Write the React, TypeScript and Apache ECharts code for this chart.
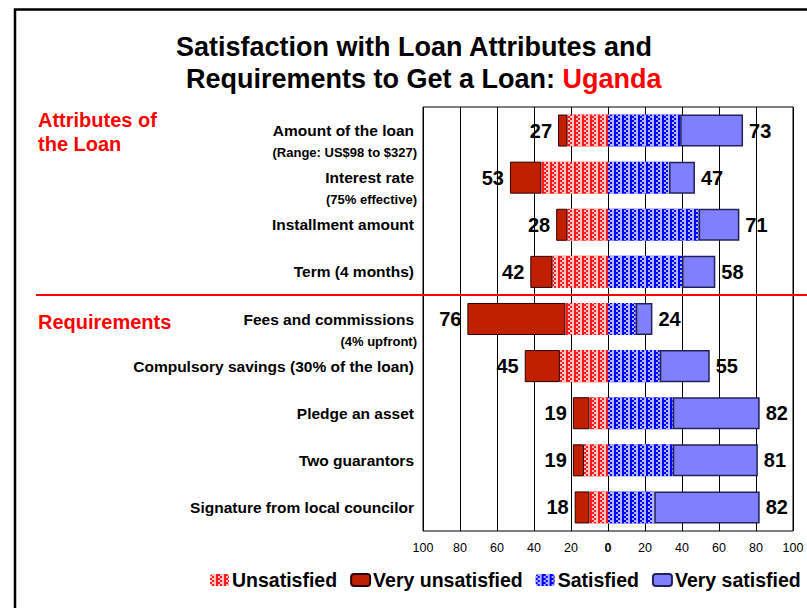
import React, { useEffect, useRef } from "react";
import * as echarts from "echarts";

const categories = [
  "Amount of the loan",
  "Interest rate",
  "Installment amount",
  "Term (4 months)",
  "Fees and commissions",
  "Compulsory savings (30% of the loan)",
  "Pledge an asset",
  "Two guarantors",
  "Signature from local councilor",
];
const subLabels = [
  "(Range: US$98 to $327)",
  "(75% effective)",
  "",
  "",
  "(4% upfront)",
  "",
  "",
  "",
  "",
];
const unsatisfied = [22, 36, 22, 30, 23, 26, 10, 13, 10];
const veryUnsatisfied = [5, 17, 6, 12, 53, 19, 9, 6, 8];
const satisfied = [39, 33, 49, 40, 15, 28, 35, 35, 25];
const verySatisfied = [34, 14, 22, 18, 9, 27, 47, 46, 57];
const xTicks = [-100, -80, -60, -40, -20, 0, 20, 40, 60, 80, 100];

const FONT = "'Liberation Sans', Arial, sans-serif";

export default function App() {
  const ref = useRef<HTMLDivElement>(null);
  useEffect(() => {
    document.body.style.margin = "0";
    if (!ref.current) return;
    const chart = echarts.init(ref.current, null, { renderer: "svg" });
    const leftTotals = unsatisfied.map((v, i) => v + veryUnsatisfied[i]);
    const rightTotals = satisfied.map((v, i) => v + verySatisfied[i]);
    const labelStyle = {
      show: true,
      fontFamily: FONT,
      fontWeight: "bold" as const,
      fontSize: 20,
      color: "#000",
      distance: 6,
    };
    const checker = (c: string) => ({
      symbol: "rect",
      symbolSize: 1,
      color: c,
      dashArrayX: [
        [1.5, 1.5],
        [0, 1.5, 1.5],
      ],
      dashArrayY: [1.5, 0],
    });
    const titleFont = "bold 27px 'Liberation Sans', Arial";
    chart.setOption({
      animation: false,
      backgroundColor: "#fff",
      textStyle: { fontFamily: FONT },
      graphic: [
        {
          type: "polyline",
          shape: { points: [[15, 620], [15, 9.5], [820, 9.5]] },
          style: { stroke: "#000", lineWidth: 2.5, fill: "none" },
          z: 100,
        },
        {
          type: "text",
          x: 176,
          y: 33,
          style: {
            text: "Satisfaction with Loan Attributes and",
            font: titleFont,
            fill: "#000",
          },
        },
        {
          type: "text",
          x: 186,
          y: 65,
          style: {
            text: "{a|Requirements to Get a Loan: }{b|Uganda}",
            rich: {
              a: { font: titleFont, fill: "#000" },
              b: { font: titleFont, fill: "#ff0000" },
            },
          },
        },
        {
          type: "text",
          x: 38,
          y: 108,
          style: {
            text: "Attributes of\nthe Loan",
            font: "bold 20px 'Liberation Sans', Arial",
            fill: "#ff0000",
            lineHeight: 24,
          },
        },
        {
          type: "text",
          x: 38,
          y: 312,
          style: {
            text: "Requirements",
            font: "bold 20px 'Liberation Sans', Arial",
            fill: "#ff0000",
          },
        },
        {
          type: "line",
          shape: { x1: 36, y1: 295, x2: 807, y2: 295 },
          style: { stroke: "#ff0000", lineWidth: 2 },
          z: 100,
        },
      ],
      legend: {
        left: 205,
        top: 565,
        width: 700,
        itemWidth: 19,
        itemHeight: 12,
        itemGap: 13,
        data: ["Unsatisfied", "Very unsatisfied", "Satisfied", "Very satisfied"],
        textStyle: {
          fontFamily: FONT,
          fontWeight: "bold",
          fontSize: 19.5,
          color: "#000",
          padding: [0, 0, 0, -2],
        },
      },
      grid: {
        left: 423,
        right: 14,
        top: 107,
        bottom: 77,
        show: true,
        borderColor: "#000",
        borderWidth: 1,
        containLabel: false,
      },
      xAxis: {
        type: "value",
        min: -100,
        max: 100,
        interval: 20,
        axisLine: { show: false },
        axisTick: { show: false },
        splitLine: { show: true, lineStyle: { color: "#000", width: 1 } },
        axisLabel: {
          fontFamily: FONT,
          fontSize: 12.5,
          color: "#000",
          margin: 10,
          formatter: (v: number) =>
            xTicks.indexOf(v) >= 0 ? (v === 0 ? "{z|0}" : String(Math.abs(v))) : "",
          rich: { z: { fontWeight: "bold", fontSize: 12.5, fontFamily: FONT } },
        },
      },
      yAxis: {
        type: "category",
        inverse: true,
        data: categories,
        axisLine: { show: false, onZero: false },
        axisTick: { show: false },
        splitLine: { show: false },
        axisLabel: {
          interval: 0,
          margin: 9,
          align: "right",
          formatter: (v: string, i: number) =>
            subLabels[i]
              ? `{e| }\n{a|${v}}\n{b|${subLabels[i]}}`
              : `{a|${v}}`,
          rich: {
            e: { fontSize: 10, lineHeight: 20 },
            a: {
              fontFamily: FONT,
              fontWeight: "bold",
              fontSize: 15.5,
              lineHeight: 24,
              color: "#000",
            },
            b: {
              fontFamily: FONT,
              fontWeight: "bold",
              fontSize: 13,
              lineHeight: 20,
              color: "#000",
              padding: [0, -3, 0, 0],
            },
          },
        },
      },
      series: [
        {
          name: "Unsatisfied",
          type: "bar",
          stack: "s",
          barCategoryGap: "32%",
          data: unsatisfied.map((v) => -v),
          itemStyle: {
            color: "#ff1a1a",
            decal: checker("rgba(255,255,255,0.75)"),
          },
        },
        {
          name: "Very unsatisfied",
          type: "bar",
          stack: "s",
          data: veryUnsatisfied.map((v) => -v),
          itemStyle: { color: "#c02000", borderColor: "#2a0000", borderWidth: 1 },
          label: {
            ...labelStyle,
            position: "left",
            formatter: (p: any) => String(leftTotals[p.dataIndex]),
          },
        },
        {
          name: "Satisfied",
          type: "bar",
          stack: "s",
          data: satisfied,
          itemStyle: {
            color: "#0000ff",
            decal: checker("rgba(255,255,255,0.7)"),
          },
        },
        {
          name: "Very satisfied",
          type: "bar",
          stack: "s",
          data: verySatisfied,
          itemStyle: { color: "#8080ff", borderColor: "#22225a", borderWidth: 1.5 },
          label: {
            ...labelStyle,
            position: "right",
            formatter: (p: any) => String(rightTotals[p.dataIndex]),
          },
        },
      ],
    });
    return () => chart.dispose();
  }, []);
  return <div ref={ref} style={{ width: 807, height: 608 }} />;
}
